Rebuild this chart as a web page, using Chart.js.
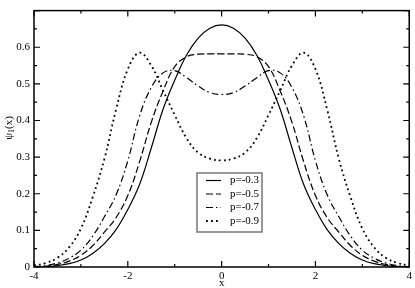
<!DOCTYPE html>
<html>
<head>
<meta charset="utf-8">
<script src="https://cdn.jsdelivr.net/npm/chart.js@4.4.1/dist/chart.umd.min.js"></script>
<style>
  html, body { margin: 0; padding: 0; background: #fff; }
  canvas { display: block; }
</style>
</head>
<body>
<canvas id="psi_chart" width="415" height="288"></canvas>
<script>
// values
const xs = [-4, -3.75, -3.5, -3.25, -3, -2.75, -2.5, -2.25, -2, -1.75, -1.5, -1.25, -1, -0.75, -0.5, -0.25,
    0, 0.25, 0.5, 0.75, 1, 1.25, 1.5, 1.75, 2, 2.25, 2.5, 2.75, 3, 3.25, 3.5, 3.75, 4];
const p03 = [0, 0.001, 0.004, 0.009, 0.019, 0.037, 0.064, 0.102, 0.157, 0.225, 0.325, 0.43, 0.51, 0.578, 0.625, 0.652,
    0.661, 0.652, 0.625, 0.578, 0.51, 0.43, 0.325, 0.225, 0.157, 0.102, 0.064, 0.037, 0.019, 0.009, 0.004, 0.001, 0];
const p05 = [0, 0.002, 0.007, 0.016, 0.032, 0.058, 0.095, 0.135, 0.195, 0.287, 0.395, 0.48, 0.547, 0.574, 0.581, 0.582,
    0.582, 0.582, 0.581, 0.574, 0.547, 0.48, 0.395, 0.287, 0.195, 0.135, 0.095, 0.058, 0.032, 0.016, 0.007, 0.002, 0];
const p07 = [0.001, 0.004, 0.011, 0.024, 0.046, 0.084, 0.137, 0.197, 0.29, 0.412, 0.49, 0.53, 0.536, 0.517, 0.494, 0.476,
    0.471, 0.476, 0.494, 0.517, 0.536, 0.53, 0.49, 0.412, 0.29, 0.197, 0.137, 0.084, 0.046, 0.024, 0.011, 0.004, 0.001];
const p09 = [0.004, 0.011, 0.025, 0.054, 0.105, 0.19, 0.295, 0.43, 0.54, 0.585, 0.55, 0.482, 0.415, 0.352, 0.312, 0.296,
    0.291, 0.296, 0.312, 0.352, 0.415, 0.482, 0.55, 0.585, 0.54, 0.43, 0.295, 0.19, 0.105, 0.054, 0.025, 0.011, 0.004];
const series_names = ['p=-0.3', 'p=-0.5', 'p=-0.7', 'p=-0.9'];
const x_labels = [-4, -2, 0, 2, 4];
const y_labels = [0, 0.1, 0.2, 0.3, 0.4, 0.5, 0.6];

const serif = '"Liberation Serif", "DejaVu Serif", serif';

function to_points(vals) {
    return vals.map((v, i) => ({x: xs[i], y: v}));
}

function make_set(name, vals, dash, width) {
    return {
        label: name,
        data: to_points(vals),
        borderColor: '#000',
        borderWidth: width || 1.2,
        borderDash: dash,
        pointRadius: 0,
        fill: false,
        tension: 0.4
    };
}

// box, inward ticks, axis titles and the legend
const frame_plugin = {
    id: 'frame',
    afterDraw(chart) {
        const ctx = chart.ctx;
        const a = chart.chartArea;
        const sx = chart.scales.x, sy = chart.scales.y;
        ctx.save();
        ctx.strokeStyle = '#000';
        ctx.lineWidth = 1.5;
        ctx.strokeRect(a.left, a.top, a.right - a.left, a.bottom - a.top);
        ctx.lineWidth = 1.2;
        ctx.beginPath();
        for (let k = 0; k <= 8; k++) {
            const v = -4 + k;
            const px = sx.getPixelForValue(v);
            const len = (k % 2 === 0) ? 6 : 3;
            ctx.moveTo(px, a.bottom); ctx.lineTo(px, a.bottom - len);
            ctx.moveTo(px, a.top); ctx.lineTo(px, a.top + len);
        }
        for (let k = 0; k <= 14; k++) {
            const py = sy.getPixelForValue(k * 0.05);
            const len = (k % 2 === 0) ? 6 : 3;
            ctx.moveTo(a.left, py); ctx.lineTo(a.left + len, py);
            ctx.moveTo(a.right, py); ctx.lineTo(a.right - len, py);
        }
        ctx.stroke();

        // axis titles
        ctx.fillStyle = '#000';
        ctx.font = '11px ' + serif;
        ctx.textAlign = 'center';
        ctx.textBaseline = 'middle';
        ctx.fillText('x', sx.getPixelForValue(0), 283);
        ctx.save();
        ctx.translate(9, 128);
        ctx.rotate(-Math.PI / 2);
        ctx.textAlign = 'left';
        ctx.font = '11px ' + serif;
        const w1 = ctx.measureText('ψ').width;
        ctx.font = '8px ' + serif;
        const w2 = ctx.measureText('1').width;
        ctx.font = '11px ' + serif;
        const w3 = ctx.measureText('(x)').width;
        let cx = -(w1 + w2 + w3) / 2;
        ctx.fillText('ψ', cx, 0);
        cx += w1;
        ctx.font = '8px ' + serif;
        ctx.fillText('1', cx, 3);
        cx += w2;
        ctx.font = '11px ' + serif;
        ctx.fillText('(x)', cx, 0);
        ctx.restore();

        // legend
        const bx = 197, by = 173, bw = 65, bh = 59;
        ctx.fillStyle = '#fff';
        ctx.fillRect(bx, by, bw, bh);
        ctx.strokeStyle = '#777';
        ctx.lineWidth = 1.5;
        ctx.strokeRect(bx, by, bw, bh);
        ctx.font = '11px ' + serif;
        ctx.textAlign = 'left';
        chart.data.datasets.forEach((ds, i) => {
            const ry = 180.5 + i * 13.5;
            ctx.strokeStyle = '#000';
            ctx.lineWidth = ds.borderWidth;
            ctx.setLineDash(ds.borderDash || []);
            ctx.beginPath();
            ctx.moveTo(206, ry);
            ctx.lineTo(221, ry);
            ctx.stroke();
            ctx.setLineDash([]);
            ctx.fillStyle = '#000';
            ctx.fillText(ds.label, 230, ry);
        });
        ctx.restore();
    }
};

function add_chart() {
    const ctx = document.getElementById('psi_chart');
    new Chart(ctx, {
        type: 'line',
        data: {
            datasets: [
                make_set(series_names[0], p03, []),
                make_set(series_names[1], p05, [7, 3]),
                make_set(series_names[2], p07, [7, 3, 1.5, 3]),
                make_set(series_names[3], p09, [1.8, 3.2], 1.8)
            ]
        },
        options: {
            responsive: false,
            animation: false,
            devicePixelRatio: 1,
            layout: { padding: { top: 1, right: 5, left: 0, bottom: 0 } },
            plugins: { legend: { display: false }, tooltip: { enabled: false } },
            scales: {
                x: {
                    type: 'linear',
                    min: -4,
                    max: 4,
                    afterBuildTicks: s => { s.ticks = x_labels.map(v => ({value: v})); },
                    afterFit: s => { s.height = 21; },
                    grid: { display: false, drawTicks: false },
                    border: { display: false },
                    ticks: { color: '#000', padding: 3, font: { family: serif, size: 11 } }
                },
                y: {
                    type: 'linear',
                    min: 0,
                    max: 0.7,
                    afterBuildTicks: s => { s.ticks = y_labels.map(v => ({value: v})); },
                    afterFit: s => { s.width = 34; },
                    grid: { display: false, drawTicks: false },
                    border: { display: false },
                    ticks: { color: '#000', padding: 4, font: { family: serif, size: 11 },
                        callback: v => String(Math.round(v * 10) / 10) }
                }
            }
        },
        plugins: [frame_plugin]
    });
}

add_chart();
</script>
</body>
</html>
